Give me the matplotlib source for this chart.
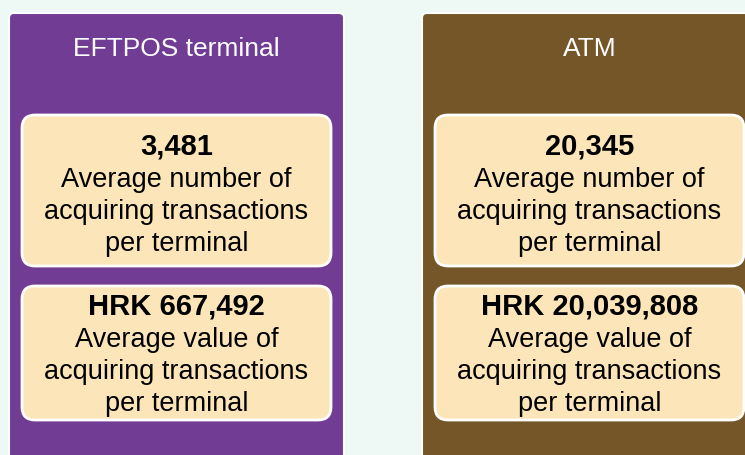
import matplotlib
matplotlib.use('Agg')

import matplotlib.pyplot as plt
import matplotlib.patches as patches

# data
panel_titles = ["EFTPOS terminal", "ATM"]
avg_count = [3481, 20345]
avg_value = [667492, 20039808]
count_label = ["Average number of", "acquiring transactions", "per terminal"]
value_label = ["Average value of", "acquiring transactions", "per terminal"]

panel_colors = ['#713c93', '#745628']
bg_color = '#eef9f6'
box_color = '#fce6b9'

W, H = 745, 456
fig = plt.figure(figsize=(W / 100, H / 100), dpi=100)
fig.patch.set_facecolor(bg_color)
ax = fig.add_axes([0, 0, 1, 1])
ax.set_xlim(0, W)
ax.set_ylim(H, 0)
ax.axis('off')

font = 'Liberation Sans'
panel_x = [9, 422]
panel_w = 335
line_h = 32

for i, title in enumerate(panel_titles):
    x0 = panel_x[i]
    ax.add_patch(patches.FancyBboxPatch(
        (x0, 14), panel_w, 460,
        boxstyle='round,pad=0,rounding_size=5',
        facecolor=panel_colors[i], edgecolor='white', linewidth=1.5
    ))
    cx = x0 + panel_w / 2
    ax.text(cx, 56, title, ha='center', va='baseline',
            fontsize=19, color='white', family=font)

    # two cream boxes
    boxes = [
        (116, 151, 155, f"{avg_count[i]:,}", count_label),
        (287, 134, 315, f"HRK {avg_value[i]:,}", value_label),
    ]
    for top, h, base, head, lines in boxes:
        ax.add_patch(patches.FancyBboxPatch(
            (x0 + 13, top), panel_w - 26, h,
            boxstyle='round,pad=0,rounding_size=13',
            facecolor=box_color, edgecolor='white', linewidth=2
        ))
        ax.text(cx, base, head, ha='center', va='baseline',
                fontsize=21, fontweight='bold', color='black', family=font)
        for k, line in enumerate(lines):
            ax.text(cx, base + line_h * (k + 1), line, ha='center', va='baseline',
                    fontsize=19.5, color='black', family=font)

plt.savefig('out.png', dpi=100, facecolor=bg_color)
plt.close()
